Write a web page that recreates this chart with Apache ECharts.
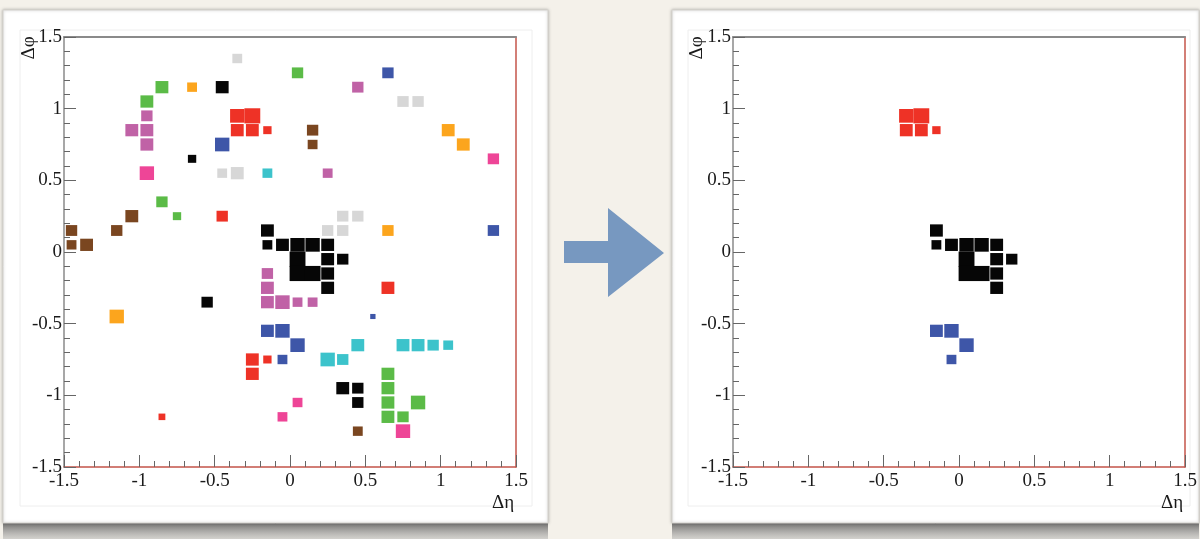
<!DOCTYPE html>
<html>
<head>
<meta charset="utf-8">
<script src="https://cdn.jsdelivr.net/npm/echarts@6/dist/echarts.min.js"></script>
<style>
  html, body { margin: 0; padding: 0; background: #f4f1ea; }
  #chart { width: 1200px; height: 539px; }
</style>
</head>
<body>
<div id="chart"></div>
<script>
// Cells of the Δη–Δφ map: [Δη bin centre, Δφ bin centre, cell content (0–10)].
// The three clusters kept after the selection (shown in both panels).
const keptRed = [[-0.35, 0.95, 9], [-0.25, 0.95, 10], [-0.35, 0.85, 8], [-0.25, 0.85, 8], [-0.15, 0.85, 5]];
const keptBlack = [[-0.15, 0.15, 8], [-0.15, 0.05, 6], [-0.05, 0.05, 8], [0.05, 0.05, 9], [0.15, 0.05, 9],
  [0.25, 0.05, 8], [0.05, -0.05, 10], [0.25, -0.05, 8], [0.35, -0.05, 7], [0.05, -0.15, 10],
  [0.15, -0.15, 10], [0.25, -0.15, 8], [0.25, -0.25, 8]];
const keptBlue = [[-0.15, -0.55, 8], [-0.05, -0.55, 9], [0.05, -0.65, 9], [-0.05, -0.75, 6]];

// Remaining clusters, grouped by drawing colour.
const otherRed = [[-0.45, 0.25, 7], [0.65, -0.25, 8], [-0.25, -0.75, 8], [-0.15, -0.75, 5], [-0.25, -0.85, 8], [-0.85, -1.15, 4]];
const otherBlack = [[-0.45, 1.15, 8], [-0.65, 0.65, 5], [-0.55, -0.35, 7], [0.35, -0.95, 8], [0.45, -0.95, 7], [0.45, -1.05, 7]];
const otherBlue = [[0.65, 1.25, 7], [-0.45, 0.75, 9], [1.35, 0.15, 7], [0.55, -0.45, 3]];
const greenCells = [[0.05, 1.25, 7], [-0.85, 1.15, 8], [-0.95, 1.05, 8], [-0.85, 0.35, 7], [-0.75, 0.25, 5],
  [0.65, -0.85, 8], [0.65, -0.95, 8], [0.65, -1.05, 8], [0.85, -1.05, 9], [0.65, -1.15, 8], [0.75, -1.15, 7]];
const orangeCells = [[-0.65, 1.15, 6], [1.05, 0.85, 8], [1.15, 0.75, 8], [0.65, 0.15, 7], [-1.15, -0.45, 9]];
const greyCells = [[-0.35, 1.35, 6], [0.75, 1.05, 7], [0.85, 1.05, 7], [-0.45, 0.55, 6], [-0.35, 0.55, 8],
  [0.35, 0.25, 7], [0.45, 0.25, 7], [0.25, 0.15, 7], [0.35, 0.15, 7]];
const purpleCells = [[0.45, 1.15, 7], [-0.95, 0.95, 7], [-1.05, 0.85, 8], [-0.95, 0.85, 8], [-0.95, 0.75, 8],
  [0.25, 0.55, 6], [-0.15, -0.15, 7], [-0.15, -0.25, 8], [-0.15, -0.35, 8], [-0.05, -0.35, 9],
  [0.05, -0.35, 6], [0.15, -0.35, 6]];
const pinkCells = [[1.35, 0.65, 7], [-0.95, 0.55, 9], [0.05, -1.05, 6], [-0.05, -1.15, 6], [0.75, -1.25, 9]];
const cyanCells = [[-0.15, 0.55, 6], [0.45, -0.65, 8], [0.75, -0.65, 8], [0.85, -0.65, 8], [0.95, -0.65, 7],
  [1.05, -0.65, 6], [0.25, -0.75, 9], [0.35, -0.75, 7]];
const brownCells = [[0.15, 0.85, 7], [0.15, 0.75, 6], [-1.05, 0.25, 8], [-1.45, 0.15, 7], [-1.15, 0.15, 7],
  [-1.45, 0.05, 6], [-1.35, 0.05, 8], [0.45, -1.25, 6]];

// Axis range and tick spacing shared by both panels.
const axisRange = [-1.5, 1.5];
const majorStep = 0.5;
const binWidth = 0.1;
const maxContent = 10;

const colours = {
  red: '#ee3226', black: '#060606', blue: '#3e56a8', green: '#5bbb47', orange: '#fca51d',
  grey: '#d7d7d7', purple: '#c062a6', pink: '#ee4597', cyan: '#3cc3cb', brown: '#7a4620'
};

const allGroups = [
  ['grey', greyCells], ['green', greenCells], ['orange', orangeCells], ['purple', purpleCells],
  ['pink', pinkCells], ['cyan', cyanCells], ['brown', brownCells],
  ['red', keptRed.concat(otherRed)], ['blue', keptBlue.concat(otherBlue)], ['black', keptBlack.concat(otherBlack)]
];
const keptGroups = [['red', keptRed], ['blue', keptBlue], ['black', keptBlack]];

// Plot-area geometry of the two panels.
const panels = [
  { left: 64, top: 37, width: 452, height: 430 },
  { left: 733, top: 37, width: 452, height: 430 }
];

const serif = "'Liberation Serif', 'Times New Roman', 'DejaVu Serif', serif";
const frameGrey = '#8a8a8a';
const frameRed = '#c4544a';

function boxSeries(groups, gridIndex) {
  const g = panels[gridIndex];
  const span = axisRange[1] - axisRange[0];
  const binPxX = g.width / span * binWidth;
  const binPxY = g.height / span * binWidth;
  return groups.map(([name, cells]) => ({
    type: 'scatter',
    name: name,
    xAxisIndex: gridIndex * 2,
    yAxisIndex: gridIndex * 2,
    symbol: 'rect',
    symbolSize: v => [binPxX * v[2] / maxContent + 0.8, binPxY * v[2] / maxContent + 0.8],
    itemStyle: { color: colours[name], opacity: 1 },
    emphasis: { disabled: true },
    silent: true,
    data: cells
  }));
}

function axesFor(gridIndex) {
  const base = { gridIndex, type: 'value', min: axisRange[0], max: axisRange[1], interval: majorStep, splitLine: { show: false } };
  const labelStyle = { color: '#1a1a1a', fontFamily: serif, fontSize: 19, showMinLabel: true, showMaxLabel: true };
  const xMain = Object.assign({}, base, {
    position: 'bottom',
    axisLine: { show: true, onZero: false, lineStyle: { color: frameRed, width: 1.5 } },
    axisTick: { show: true, inside: true, length: 12, lineStyle: { color: '#666', width: 1 } },
    minorTick: { show: true, splitNumber: 5, length: 6, lineStyle: { color: '#666', width: 1 } },
    axisLabel: Object.assign({ show: true, margin: 5 }, labelStyle)
  });
  const xTop = Object.assign({}, base, {
    position: 'top',
    axisLine: { show: true, onZero: false, lineStyle: { color: frameGrey, width: 2 } },
    axisTick: { show: false }, axisLabel: { show: false }
  });
  const yMain = Object.assign({}, base, {
    position: 'left',
    axisLine: { show: true, onZero: false, lineStyle: { color: frameGrey, width: 1.5 } },
    axisTick: { show: true, inside: true, length: 12, lineStyle: { color: '#666', width: 1 } },
    minorTick: { show: true, splitNumber: 5, length: 6, lineStyle: { color: '#666', width: 1 } },
    axisLabel: Object.assign({ show: true, margin: 2, padding: [3, 0, 0, 0] }, labelStyle)
  });
  const yRight = Object.assign({}, base, {
    position: 'right',
    axisLine: { show: true, onZero: false, lineStyle: { color: frameRed, width: 1.5 } },
    axisTick: { show: false }, axisLabel: { show: false }
  });
  return { x: [xMain, xTop], y: [yMain, yRight] };
}

const a0 = axesFor(0), a1 = axesFor(1);

// Paper cards, their drop shadows, the arrow and the axis titles.
function card(x, y, w, h) {
  return [
    { type: 'rect', z: -20, shape: { x: x, y: y + h - 6, width: w, height: 539 - (y + h) + 6 },
      style: { fill: new echarts.graphic.LinearGradient(0, 0, 0, 1, [
        { offset: 0, color: 'rgba(60,60,60,0.9)' }, { offset: 0.45, color: 'rgba(110,110,110,0.75)' },
        { offset: 1, color: 'rgba(170,170,170,0.45)' }]) } },
    { type: 'rect', z: -19, shape: { x: x, y: y, width: w, height: h },
      style: { fill: '#ffffff', stroke: '#d4d2cd', lineWidth: 1, shadowBlur: 3, shadowColor: 'rgba(0,0,0,0.25)' } }
  ];
}

const titleFont = '19px ' + serif;
const graphics = [].concat(
  card(3, 10, 545, 513),
  card(672, 10, 527, 513),
  [
    { type: 'rect', z: -18, shape: { x: 20, y: 30, width: 512, height: 476 }, style: { fill: 'none', stroke: '#eeeeee', lineWidth: 1 } },
    { type: 'rect', z: -18, shape: { x: 688, y: 30, width: 502, height: 476 }, style: { fill: 'none', stroke: '#eeeeee', lineWidth: 1 } },
    { type: 'polygon', z: -10,
      shape: { points: [[564, 241], [608, 241], [608, 208], [664, 253], [608, 297], [608, 263], [564, 263]] },
      style: { fill: '#7798c0' } },
    { type: 'text', z: 10, x: 503, y: 503, style: { text: 'Δη', font: titleFont, fill: '#1a1a1a', textAlign: 'center', textVerticalAlign: 'middle' } },
    { type: 'text', z: 10, x: 1172, y: 503, style: { text: 'Δη', font: titleFont, fill: '#1a1a1a', textAlign: 'center', textVerticalAlign: 'middle' } },
    { type: 'text', z: 10, x: 29, y: 48, rotation: Math.PI / 2, style: { text: 'Δφ', font: titleFont, fill: '#1a1a1a', textAlign: 'center', textVerticalAlign: 'middle' } },
    { type: 'text', z: 10, x: 697, y: 48, rotation: Math.PI / 2, style: { text: 'Δφ', font: titleFont, fill: '#1a1a1a', textAlign: 'center', textVerticalAlign: 'middle' } }
  ]
);

const chart = echarts.init(document.getElementById('chart'), null, { renderer: 'canvas' });
chart.setOption({
  backgroundColor: '#f4f1ea',
  animation: false,
  grid: panels.map(p => ({ left: p.left, top: p.top, width: p.width, height: p.height, containLabel: false, backgroundColor: '#ffffff', show: true, borderWidth: 0 })),
  xAxis: a0.x.concat(a1.x),
  yAxis: a0.y.concat(a1.y),
  series: boxSeries(allGroups, 0).concat(boxSeries(keptGroups, 1)),
  graphic: graphics
});
</script>
</body>
</html>
